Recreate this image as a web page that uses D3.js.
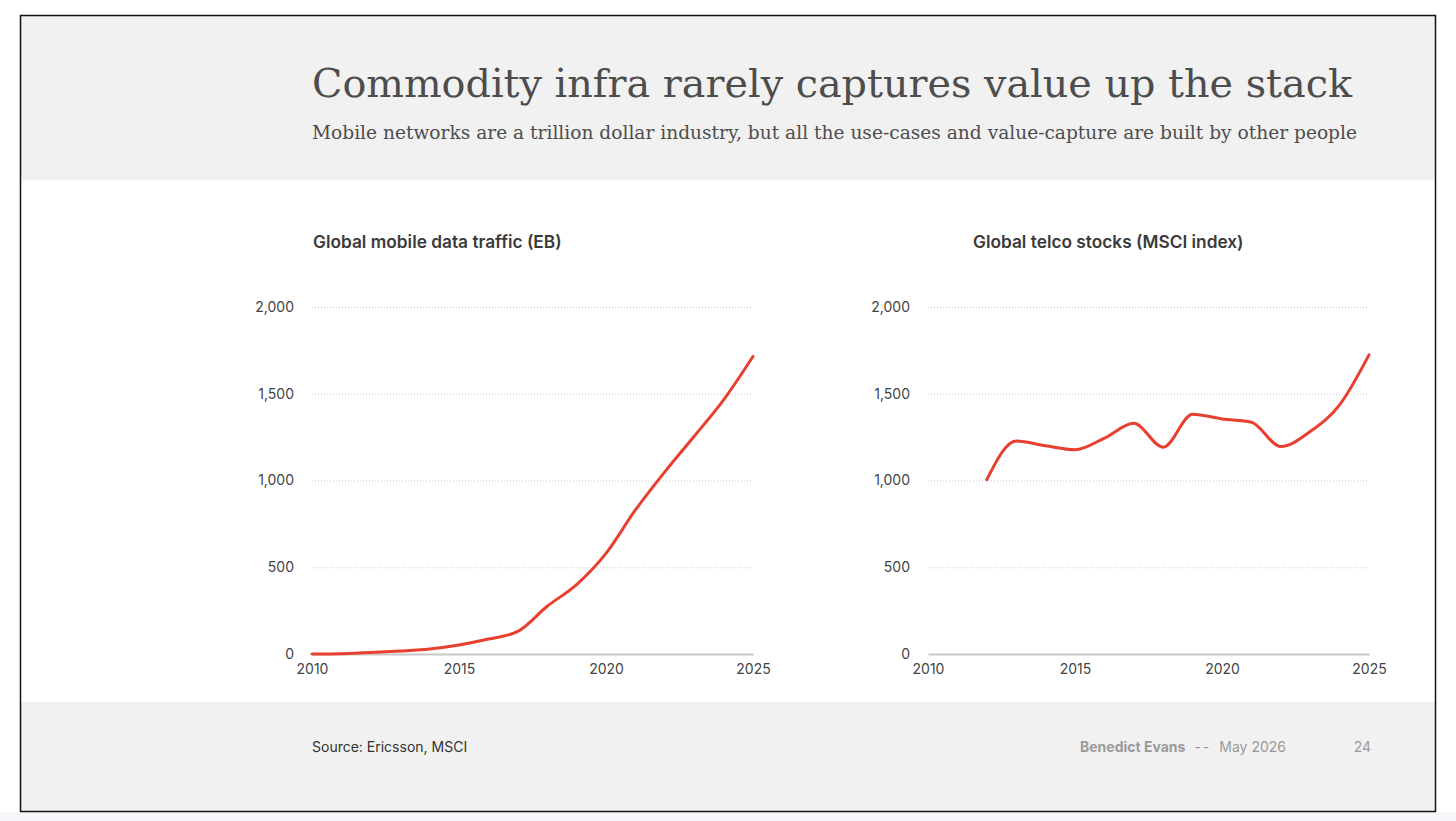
<!DOCTYPE html>
<html>
<head>
<meta charset="utf-8">
<script src="https://cdn.jsdelivr.net/npm/d3@7"></script>
<style>
  body { margin: 0; background: #fff; }
  svg { display: block; }
</style>
</head>
<body>
<svg id="chart" width="1456" height="821"></svg>
<script>
// data
const years = d3.range(2010, 2026);
const trafficYears = years;
const trafficValues = [0, 2, 8, 17, 29, 52, 86, 130, 275, 400, 580, 830, 1050, 1255, 1465, 1715];
const telcoYears = d3.range(2012, 2026);
const telcoValues = [1005, 1228, 1200, 1177, 1244, 1330, 1192, 1382, 1355, 1336, 1196, 1282, 1436, 1724];
const xTicks = [2010, 2015, 2020, 2025];
const yTicks = [0, 500, 1000, 1500, 2000];

const svg = d3.select("#chart");
const sans = "Inter, 'Noto Sans', sans-serif";
const serif = "'DejaVu Serif', serif";
const red = "#e8402f";

// slide frame
svg.append("rect").attr("x", 0).attr("y", 812).attr("width", 1456).attr("height", 9).attr("fill", "#f7f7fb");
svg.append("rect").attr("x", 20).attr("y", 15).attr("width", 1416).attr("height", 165).attr("fill", "#f1f1f1");
svg.append("rect").attr("x", 20).attr("y", 702).attr("width", 1416).attr("height", 110).attr("fill", "#f1f1f1");
svg.append("rect").attr("x", 20.5).attr("y", 15.5).attr("width", 1415).attr("height", 796)
  .attr("fill", "none").attr("stroke", "#111").attr("stroke-width", 1.5);

svg.append("text").attr("x", 312).attr("y", 97)
  .attr("font-family", serif).attr("font-size", 40).attr("fill", "#4d4d4d")
  .attr("textLength", 1040).attr("lengthAdjust", "spacingAndGlyphs")
  .text("Commodity infra rarely captures value up the stack");
svg.append("text").attr("x", 312).attr("y", 139)
  .attr("font-family", serif).attr("font-size", 18).attr("fill", "#4d4d4d")
  .attr("textLength", 1045).attr("lengthAdjust", "spacingAndGlyphs")
  .text("Mobile networks are a trillion dollar industry, but all the use-cases and value-capture are built by other people");

function panel(left, title, titleX, xs, ys) {
  const width = 441, top = 307, bottom = 654;
  const x = d3.scaleLinear().domain([2010, 2025]).range([left, left + width]);
  const y = d3.scaleLinear().domain([0, 2000]).range([bottom, top]);

  svg.append("text").attr("x", titleX).attr("y", 248)
    .attr("font-family", sans).attr("font-size", 17.3).attr("font-weight", 600).attr("fill", "#3a3a3a")
    .text(title);

  // grid
  const grid = svg.append("g")
    .attr("transform", `translate(${left},0)`)
    .call(d3.axisLeft(y).tickValues(yTicks.filter(d => d > 0)).tickSize(-width).tickFormat(""));
  grid.select(".domain").remove();
  grid.selectAll("line").attr("stroke", "#c8c8c8").attr("stroke-dasharray", "1,2");

  // y labels
  const yl = svg.append("g").attr("transform", `translate(${left - 15},0)`)
    .call(d3.axisLeft(y).tickValues(yTicks).tickSize(0).tickFormat(d3.format(",")));
  yl.select(".domain").remove();
  yl.selectAll("text").attr("font-family", sans).attr("font-size", 14).attr("fill", "#444");

  // x axis
  const xa = svg.append("g").attr("transform", `translate(0,${bottom})`)
    .call(d3.axisBottom(x).tickValues(xTicks).tickSize(0).tickFormat(d3.format("d")).tickPadding(10));
  xa.select(".domain").attr("stroke", "#c8c8c8").attr("stroke-width", 2);
  xa.selectAll("text").attr("font-family", sans).attr("font-size", 14).attr("fill", "#444");

  const line = d3.line()
    .x((d, i) => x(xs[i]))
    .y(d => y(d))
    .curve(d3.curveMonotoneX);
  svg.append("path").datum(ys)
    .attr("d", line).attr("fill", "none").attr("stroke", red)
    .attr("stroke-width", 3).attr("stroke-linecap", "round").attr("stroke-linejoin", "round");
}

panel(312, "Global mobile data traffic (EB)", 313, trafficYears, trafficValues);
panel(928, "Global telco stocks (MSCI index)", 973, telcoYears, telcoValues);

// footer
svg.append("text").attr("x", 312).attr("y", 752)
  .attr("font-family", sans).attr("font-size", 14).attr("fill", "#333")
  .text("Source: Ericsson, MSCI");
const credit = svg.append("text").attr("x", 1080).attr("y", 752)
  .attr("font-family", sans).attr("font-size", 14).attr("fill", "#9a9a9a");
credit.append("tspan").attr("font-weight", 700).text("Benedict Evans");
credit.append("tspan").attr("dx", 9).attr("letter-spacing", 2).text("--");
credit.append("tspan").attr("dx", 8).text("May 2026");
svg.append("text").attr("x", 1371).attr("y", 752).attr("text-anchor", "end")
  .attr("font-family", sans).attr("font-size", 14).attr("fill", "#9a9a9a")
  .text("24");
</script>
</body>
</html>
